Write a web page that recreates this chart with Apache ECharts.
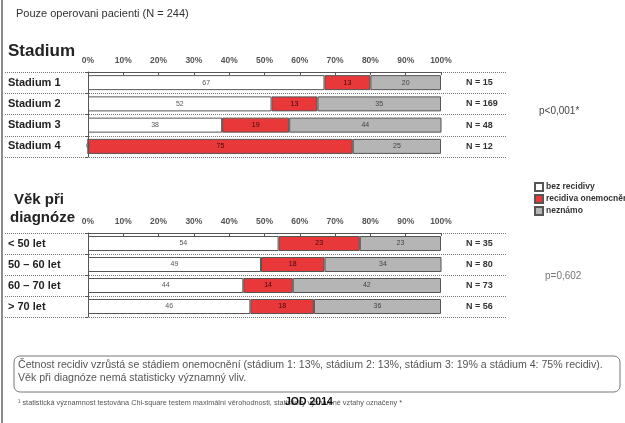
<!DOCTYPE html>
<html>
<head>
<meta charset="utf-8">
<script src="https://cdn.jsdelivr.net/npm/echarts@6/dist/echarts.min.js"></script>
<style>
  html, body { margin: 0; padding: 0; background: #fff; }
  #chart { width: 625px; height: 423px; }
</style>
</head>
<body>
<div id="chart"></div>
<script>
// stadium
var stageCats = ['Stadium 1', 'Stadium 2', 'Stadium 3', 'Stadium 4'];
var stageNone = [67, 52, 38, 0];
var stageRec = [13, 13, 19, 75];
var stageUnknown = [20, 35, 44, 25];
var stageN = ['N = 15', 'N = 169', 'N = 48', 'N = 12'];

// vek pri diagnoze
var ageCats = ['< 50 let', '50 – 60 let', '60 – 70 let', '> 70 let'];
var ageNone = [54, 49, 44, 46];
var ageRec = [23, 18, 14, 18];
var ageUnknown = [23, 34, 42, 36];
var ageN = ['N = 35', 'N = 80', 'N = 73', 'N = 56'];

var seriesNames = ['bez recidivy', 'recidiva onemocnění', 'neznámo'];
var seriesColors = ['#ffffff', '#e8383a', '#b5b5b5'];
var labelColors = ['#555', '#3a0a0a', '#444'];

var narrow = '"Liberation Sans Narrow", "Liberation Sans", Arial, sans-serif';
var sans = '"Liberation Sans", Arial, sans-serif';

var myChart = echarts.init(document.getElementById('chart'));

function valueAxis(grid) {
    return {
        type: 'value', gridIndex: grid, min: 0, max: 100, interval: 10, position: 'top',
        axisLine: { show: true, lineStyle: { color: '#555', width: 1 } },
        axisTick: { show: true, inside: true, length: 3, lineStyle: { color: '#555' } },
        axisLabel: { formatter: '{value}%', margin: 7, fontSize: 8.5, fontWeight: 'bold', fontFamily: narrow, color: '#555' },
        splitLine: { show: false }
    };
}
function dotAxis(grid, cats) {
    return {
        type: 'category', gridIndex: grid, data: cats, inverse: true,
        axisLine: { show: false }, axisTick: { show: false }, axisLabel: { show: false },
        splitLine: { show: true, lineStyle: { color: '#777', type: [1, 1], width: 1 } }
    };
}
function catAxis(grid, cats) {
    return {
        type: 'category', gridIndex: grid, data: cats, inverse: true,
        axisLine: { show: true, lineStyle: { color: '#555' } },
        axisTick: { show: true, length: 3, lineStyle: { color: '#555' } },
        axisLabel: { align: 'left', margin: 80, fontSize: 11, fontWeight: 'bold', fontFamily: sans, color: '#222' }
    };
}
function nAxis(grid, labels) {
    return {
        type: 'category', gridIndex: grid, data: labels, inverse: true, position: 'right',
        axisLine: { show: false }, axisTick: { show: false },
        axisLabel: { align: 'left', margin: 25, fontSize: 9, fontWeight: 'bold', fontFamily: narrow, color: '#333' }
    };
}
function barSeries(idx, data, xi, yi, stack) {
    return {
        name: seriesNames[idx], type: 'bar', stack: stack, data: data,
        xAxisIndex: xi, yAxisIndex: yi, barWidth: 15,
        itemStyle: { color: seriesColors[idx], borderColor: '#555', borderWidth: 1 },
        label: { show: true, position: 'inside', fontSize: 7, fontFamily: narrow, color: labelColors[idx] }
    };
}

var option = {
    animation: false,
    grid: [
        { left: 5, width: 502, top: 72, height: 85 },
        { left: 88, width: 353, top: 72, height: 85 },
        { left: 5, width: 502, top: 233, height: 84 },
        { left: 88, width: 353, top: 233, height: 84 }
    ],
    xAxis: [
        { type: 'value', gridIndex: 0, min: 0, max: 1, show: false },
        valueAxis(1),
        { type: 'value', gridIndex: 2, min: 0, max: 1, show: false },
        valueAxis(3)
    ],
    yAxis: [
        dotAxis(0, stageCats),
        catAxis(1, stageCats),
        nAxis(1, stageN),
        dotAxis(2, ageCats),
        catAxis(3, ageCats),
        nAxis(3, ageN)
    ],
    legend: {
        data: seriesNames, orient: 'vertical', left: 529, top: 177,
        itemWidth: 8, itemHeight: 8, itemGap: 2, icon: 'rect',
        textStyle: { fontSize: 8.5, fontWeight: 'bold', fontFamily: narrow, color: '#333', padding: [0, 0, 0, -2] }
    },
    series: [
        barSeries(0, stageNone, 1, 1, 'st'),
        barSeries(1, stageRec, 1, 1, 'st'),
        barSeries(2, stageUnknown, 1, 1, 'st'),
        barSeries(0, ageNone, 3, 4, 'age'),
        barSeries(1, ageRec, 3, 4, 'age'),
        barSeries(2, ageUnknown, 3, 4, 'age')
    ],
    graphic: [
        { type: 'line', shape: { x1: 2, y1: 0, x2: 2, y2: 423 }, style: { stroke: '#666', lineWidth: 1.5 } },
        { type: 'text', left: 16, top: 8, style: { text: 'Pouze operovani pacienti (N = 244)', font: '11px ' + sans, fill: '#333' } },
        { type: 'text', left: 8, top: 43, style: { text: 'Stadium', font: 'bold 17px ' + sans, fill: '#222' } },
        { type: 'text', left: 14, top: 192, style: { text: 'Věk při', font: 'bold 15px ' + sans, fill: '#222' } },
        { type: 'text', left: 10, top: 210, style: { text: 'diagnóze', font: 'bold 15px ' + sans, fill: '#222' } },
        { type: 'text', left: 539, top: 106, style: { text: 'p<0,001*', font: '10px ' + sans, fill: '#444' } },
        { type: 'text', left: 545, top: 271, style: { text: 'p=0,602', font: '10px ' + sans, fill: '#777' } },
        { type: 'rect', shape: { x: 14, y: 356, width: 606, height: 36, r: 6 }, style: { fill: 'none', stroke: '#777', lineWidth: 1 } },
        { type: 'text', left: 18, top: 359, style: { text: 'Četnost recidiv vzrůstá se stádiem onemocnění (stádium 1: 13%, stádium 2: 13%, stádium 3: 19% a stádium 4: 75% recidiv).\nVěk při diagnóze nemá statisticky významný vliv.', font: '10.6px ' + sans, fill: '#555', lineHeight: 13 } },
        { type: 'text', left: 18, top: 399, style: { text: '¹ statistická významnost testována Chi-square testem maximální věrohodnosti, statisticky významné vztahy označeny *', font: '7.3px ' + sans, fill: '#555' } },
        { type: 'text', left: 285, top: 397, style: { text: 'JOD 2014', font: 'bold 10.5px ' + sans, fill: '#111' } }
    ]
};
myChart.setOption(option);
</script>
</body>
</html>
